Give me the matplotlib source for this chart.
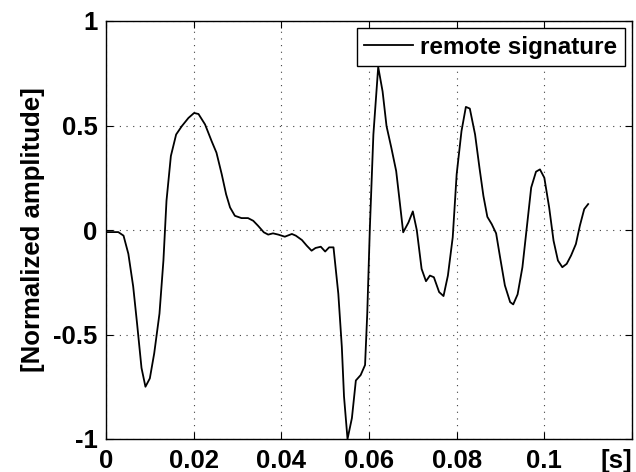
import numpy as np
import matplotlib
matplotlib.use("Agg")
import matplotlib.pyplot as plt

# remote signature (time in s, normalized amplitude)
t = [0.0, 0.0028, 0.0040, 0.0051, 0.0062, 0.0071, 0.0081, 0.0090, 0.0100,
     0.0110, 0.0122, 0.0131, 0.0138, 0.0148, 0.0160, 0.0173, 0.0188, 0.0201,
     0.0211, 0.0226, 0.0241, 0.0252, 0.0264, 0.0274, 0.0283, 0.0294, 0.0309,
     0.0324, 0.0336, 0.0347, 0.0360, 0.0370, 0.0381, 0.0393, 0.0408, 0.0424,
     0.0433, 0.0447, 0.0458, 0.0469, 0.0478, 0.0490, 0.0500, 0.0509, 0.0519,
     0.0530, 0.0538, 0.0543, 0.0551, 0.0561, 0.0570, 0.0581, 0.0591, 0.0596,
     0.0602, 0.0610, 0.0621, 0.0631, 0.0640, 0.0651, 0.0662, 0.0669, 0.0678,
     0.0690, 0.0700, 0.0709, 0.0720, 0.0730, 0.0739, 0.0748, 0.0760, 0.0770,
     0.0780, 0.0791, 0.0800, 0.0811, 0.0821, 0.0830, 0.0842, 0.0852, 0.0861,
     0.0870, 0.0880, 0.0890, 0.0899, 0.0910, 0.0922, 0.0929, 0.0939, 0.0950,
     0.0960, 0.0970, 0.0981, 0.0990, 0.1000, 0.1011, 0.1021, 0.1031, 0.1041,
     0.1051, 0.1061, 0.1072, 0.1081, 0.1091, 0.1100]
amp = [-0.01, -0.01, -0.027, -0.114, -0.27, -0.45, -0.66, -0.75, -0.71,
       -0.59, -0.40, -0.146, 0.14, 0.354, 0.457, 0.497, 0.536, 0.56,
       0.555, 0.505, 0.425, 0.37, 0.267, 0.171, 0.108, 0.068, 0.057,
       0.057, 0.044, 0.02, -0.011, -0.022, -0.016, -0.022, -0.032, -0.019,
       -0.027, -0.048, -0.075, -0.099, -0.086, -0.08, -0.103, -0.083, -0.083,
       -0.305, -0.559, -0.797, -1.0, -0.90, -0.72, -0.694, -0.646, -0.40,
       0.012, 0.457, 0.78, 0.663, 0.497, 0.393, 0.282, 0.155, -0.011,
       0.036, 0.089, 0.0, -0.186, -0.245, -0.218, -0.226, -0.297, -0.316,
       -0.218, -0.035, 0.267, 0.473, 0.589, 0.581, 0.457, 0.298, 0.163,
       0.063, 0.028, -0.016, -0.13, -0.265, -0.345, -0.356, -0.308, -0.178,
       0.012, 0.203, 0.279, 0.29, 0.25, 0.108, -0.051, -0.146, -0.178,
       -0.162, -0.122, -0.067, 0.02, 0.10, 0.124]

x_ticks = [0, 0.02, 0.04, 0.06, 0.08, 0.1, 0.12]
x_labels = ['0', '0.02', '0.04', '0.06', '0.08', '0.1', '[s]']
y_ticks = [-1, -0.5, 0, 0.5, 1]
y_labels = ['-1', '-0.5', '0', '0.5', '1']

plt.rcParams['font.family'] = 'Liberation Sans'
plt.rcParams['font.weight'] = 'bold'

fig = plt.figure(figsize=(6.36, 4.72), dpi=100)
ax = fig.add_axes([106/636, 1-439/472, 526/636, 418/472])

ax.plot(t, amp, color='k', lw=1.3, label='remote signature')

ax.set_xlim(0, 0.12)
ax.set_ylim(-1, 1)
ax.set_xticks(x_ticks)
ax.set_xticklabels(x_labels, fontsize=18.5, fontweight='bold')
ax.set_yticks(y_ticks)
ax.set_yticklabels(y_labels, fontsize=18.5, fontweight='bold')
ax.get_xticklabels()[-1].set_horizontalalignment('right')
ax.tick_params(direction='in', length=5, width=0.8, top=True, right=True)
ax.tick_params(axis='x', pad=7)
ax.tick_params(axis='y', pad=6)
ax.grid(True, color='0.25', linestyle=(0, (1, 5)), linewidth=0.8)
for s in ax.spines.values():
    s.set_linewidth(1.0)

ax.set_ylabel('[Normalized amplitude]', fontsize=18.5, fontweight='bold', labelpad=6)

leg = ax.legend(loc='upper right', fontsize=17.5, frameon=True, fancybox=False,
                handlelength=2.0, borderaxespad=0.3, borderpad=0.3, handletextpad=0.3)
leg.get_frame().set_edgecolor('k')
leg.get_frame().set_linewidth(1.0)
leg.get_frame().set_alpha(1)
for txt in leg.get_texts():
    txt.set_fontweight('bold')

fig.savefig('out.png', dpi=100)
